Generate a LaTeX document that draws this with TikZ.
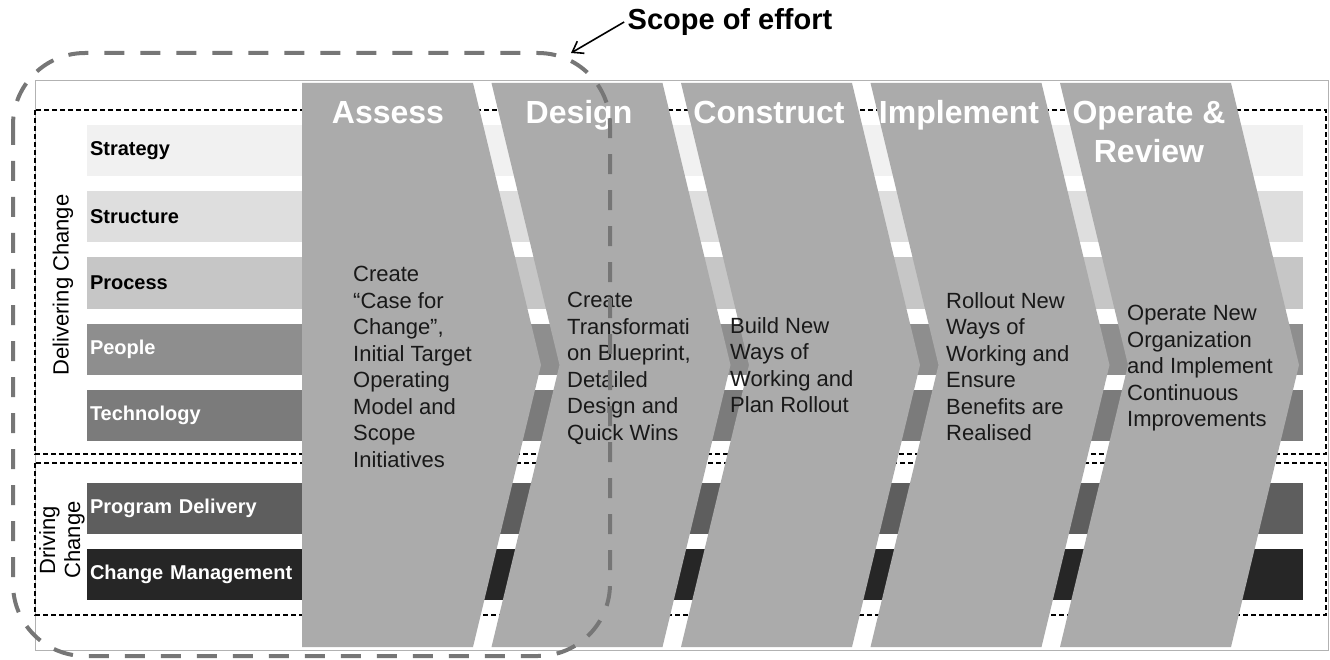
\documentclass[tikz,border=0pt]{standalone}
\usepackage{fontspec}
\setmainfont{Liberation Sans}
\usepackage{xcolor}
\usepackage{tikz}
\usetikzlibrary{arrows.meta}

\definecolor{chevronGray}{HTML}{ABABAB}
\definecolor{strategyGray}{HTML}{F1F1F1}
\definecolor{structureGray}{HTML}{DEDEDE}
\definecolor{processGray}{HTML}{C6C6C6}
\definecolor{peopleGray}{HTML}{8E8E8E}
\definecolor{technologyGray}{HTML}{7B7B7B}
\definecolor{deliveryGray}{HTML}{5E5E5E}
\definecolor{managementGray}{HTML}{262626}
\definecolor{scopeGray}{HTML}{767676}

\begin{document}
\begin{tikzpicture}[x = 1pt, y = -1pt,
		layer/.style = {minimum height = 51pt, text width = 1210pt, inner xsep = 3pt, inner ysep = 0pt, align = left, font = \fontsize{20}{24}\selectfont\bfseries},
		chevron/.style = {fill = chevronGray},
		chevronTitle/.style = {anchor = base, inner sep = 0pt, text = white, font = \fontsize{32}{39}\selectfont\bfseries},
		chevronText/.style = {anchor = north west, align = left, inner sep = 0pt, text = black!90, font = \fontsize{22}{26.5}\selectfont},
		groupBox/.style = {draw = black, line width = 1.2pt, dash pattern = on 5pt off 3pt},
		groupLabel/.style = {rotate = 90, align = center, inner sep = 0pt, font = \fontsize{22}{25}\selectfont},
		scopeLine/.style = {draw = scopeGray, line width = 4pt, dash pattern = on 20pt off 16pt, rounded corners = 72pt},
		scopeLabel/.style = {font = \fontsize{29}{34}\selectfont\bfseries}
	]
	\def\barMid{695};
	\def\cTop{83};
	\def\cMid{365};
	\def\cBottom{647};
	\def\cWidth{171};
	\def\cTip{68};

	\newcommand{\drawLayer}[5]
	{
		\node [layer, fill = #3, text = #4] (#2) at (\barMid,#1) {#5}
	}

	\newcommand{\drawChevron}[2]
	{
		\fill [chevron] (#1,\cTop) -- (#1+\cWidth,\cTop) -- (#1+\cWidth+\cTip,\cMid) -- (#1+\cWidth,\cBottom) -- (#1,\cBottom) -- (#1+#2,\cMid) -- cycle
	}

	\useasboundingbox (0,0) rectangle (1330,660);

	\begin{scope}
		\draw [black!30, line width = 0.8pt] (35,80) rectangle (1328,650);
		\draw [groupBox] (35,110) rectangle (1326,454);
		\draw [groupBox] (35,463) rectangle (1326,615);
	\end{scope}

	\begin{scope}
		\drawLayer{151}{strategy}{strategyGray}{black}{Strategy};
		\drawLayer{217}{structure}{structureGray}{black}{Structure};
		\drawLayer{283}{process}{processGray}{black}{Process};
		\drawLayer{349}{people}{peopleGray}{white}{People};
		\drawLayer{415}{technology}{technologyGray}{white}{Technology};
		\drawLayer{508}{delivery}{deliveryGray}{white}{Program Delivery};
		\drawLayer{574}{management}{managementGray}{white}{Change Management};
		\node [groupLabel] (deliveringLabel) at (63,285) {Delivering Change};
		\node [groupLabel] (drivingLabel) at (62,540) {Driving\\Change};
	\end{scope}

	\begin{scope}
		\drawChevron{302}{0};
		\drawChevron{491.5}{\cTip};
		\drawChevron{681}{\cTip};
		\drawChevron{870.5}{\cTip};
		\drawChevron{1060}{\cTip};
	\end{scope}

	\begin{scope}
		\node [chevronTitle] (assessTitle) at (388,124) {Assess};
		\node [chevronTitle] (designTitle) at (579,124) {Design};
		\node [chevronTitle] (constructTitle) at (769,124) {Construct};
		\node [chevronTitle] (implementTitle) at (959,124) {Implement};
		\node [chevronTitle, anchor = north, align = center] (operateTitle) at (1149,101) {Operate \&\\Review};

		\node [chevronText] (assessText) at (353,266) {Create\\“Case for\\Change”,\\Initial Target\\Operating\\Model and\\Scope\\Initiatives};
		\node [chevronText] (designText) at (567,292) {Create\\Transformati\\on Blueprint,\\Detailed\\Design and\\Quick Wins};
		\node [chevronText] (constructText) at (730,317) {Build New\\Ways of\\Working and\\Plan Rollout};
		\node [chevronText] (implementText) at (946,292) {Rollout New\\Ways of\\Working and\\Ensure\\Benefits are\\Realised};
		\node [chevronText] (operateText) at (1127,305) {Operate New\\Organization\\and Implement\\Continuous\\Improvements};
	\end{scope}

	\begin{scope}
		\draw [scopeLine] (13,53) rectangle (610,656);
		\node [scopeLabel] (effort) at (730,22) {Scope of effort};
		\coordinate (effortTip) at (571,53);
		\draw [-{Straight Barb[length = 10pt, width = 14pt]}, line width = 1.6pt] (effort.west) -- (effortTip);
	\end{scope}
\end{tikzpicture}
\end{document}
